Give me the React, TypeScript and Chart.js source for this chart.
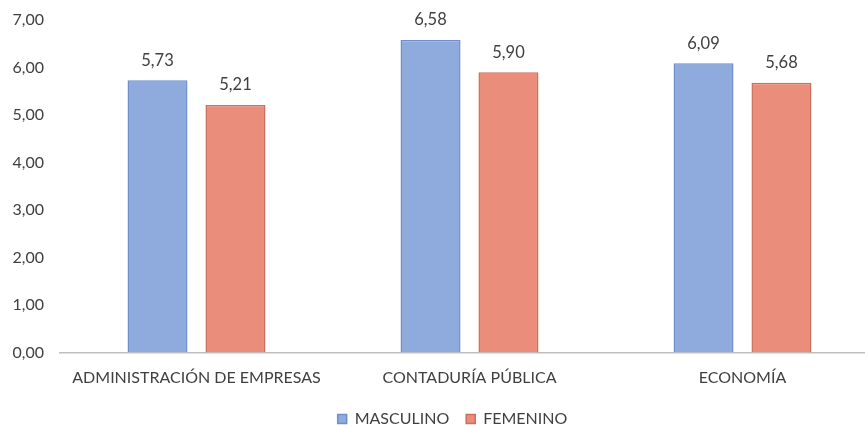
import React, { useEffect, useRef } from "react";
import { Chart, registerables } from "chart.js";

Chart.register(...registerables);

const categories = ["ADMINISTRACIÓN DE EMPRESAS", "CONTADURÍA PÚBLICA", "ECONOMÍA"];
const seriesNames = ["MASCULINO", "FEMENINO"];
const masculino = [5.73, 6.58, 6.09];
const femenino = [5.21, 5.9, 5.68];
const yTicks = [0, 1, 2, 3, 4, 5, 6, 7];

const FONT = "Lato, 'Noto Sans', sans-serif";
const TEXT = "#404040";

const fmt = (v: number) => v.toFixed(2).replace(".", ",");

// Writes each bar's value centred above it
const valueLabels = {
  id: "valueLabels",
  afterLayout(chart: any) {
    // nudge the legend row a little to the right
    if (chart.legend) {
      chart.legend.left += 9;
      chart.legend.right += 9;
    }
  },
  afterDatasetsDraw(chart: any) {
    const { ctx } = chart;
    ctx.save();
    ctx.font = `16.5px ${FONT}`;
    ctx.fillStyle = TEXT;
    ctx.textAlign = "center";
    ctx.textBaseline = "middle";
    chart.data.datasets.forEach((ds: any, i: number) => {
      const meta = chart.getDatasetMeta(i);
      meta.data.forEach((bar: any, j: number) => {
        ctx.fillText(fmt(ds.data[j]), bar.x, bar.y - 20);
      });
    });
    ctx.restore();
  },
};

export default function App() {
  const ref = useRef<HTMLCanvasElement>(null);

  useEffect(() => {
    document.body.style.margin = "0";
    document.body.style.overflow = "hidden";
    const chart = new Chart(ref.current!, {
      type: "bar",
      data: {
        labels: categories,
        datasets: [
          {
            label: seriesNames[0],
            data: masculino,
            backgroundColor: "#8faadc",
            borderColor: "#6f8fca",
            borderWidth: 1.5,
          },
          {
            label: seriesNames[1],
            data: femenino,
            backgroundColor: "#ea8e7b",
            borderColor: "#cc6f5c",
            borderWidth: 1.5,
          },
        ],
      },
      options: {
        animation: false,
        responsive: false,
        maintainAspectRatio: false,
        layout: { padding: { top: 20, left: 8, right: 0, bottom: 0 } },
        datasets: {
          bar: { categoryPercentage: 0.571, barPercentage: 0.77 },
        },
        plugins: {
          tooltip: { enabled: false },
          legend: {
            position: "bottom",
            labels: {
              boxWidth: 9,
              boxHeight: 9,
              padding: 17,
              color: TEXT,
              font: { family: FONT, size: 16 },
            },
          },
        },
        scales: {
          x: {
            grid: { display: false, drawTicks: false },
            border: { display: true, color: "#bfbfbf", width: 1.5 },
            afterFit: (axis: any) => {
              axis.paddingLeft = 0;
              axis.paddingRight = 0;
              axis.height = 41.5;
            },
            ticks: {
              color: TEXT,
              padding: 16,
              maxRotation: 0,
              font: { family: FONT, size: 16 },
            },
          },
          y: {
            min: 0,
            max: 7,
            grid: { display: false, drawTicks: false },
            border: { display: false },
            afterFit: (axis: any) => {
              axis.width = 52;
              axis.paddingTop = 0;
              axis.paddingBottom = 0;
            },
            afterBuildTicks: (axis: any) => {
              axis.ticks = yTicks.map((v) => ({ value: v }));
            },
            ticks: {
              color: TEXT,
              padding: 16,
              font: { family: FONT, size: 16 },
              callback: (v: any) => fmt(Number(v)),
            },
          },
        },
      },
      plugins: [valueLabels],
    });
    return () => chart.destroy();
  }, []);

  return (
    <div style={{ position: "fixed", left: 0, top: 0, width: 865, height: 425, overflow: "hidden", background: "#fff" }}>
      <canvas ref={ref} width={879} height={437} style={{ display: "block" }} />
    </div>
  );
}
